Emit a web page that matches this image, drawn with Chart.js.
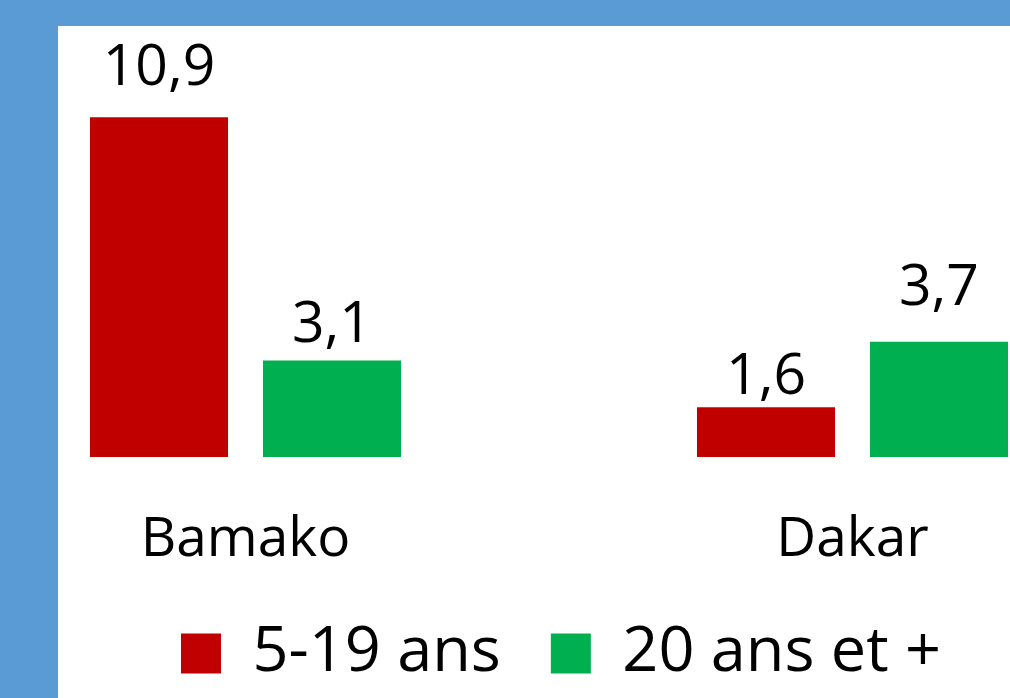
<!DOCTYPE html>
<html>
<head>
<meta charset="utf-8">
<script src="https://cdn.jsdelivr.net/npm/chart.js@4.4.0/dist/chart.umd.min.js"></script>
<style>
  html, body { margin: 0; padding: 0; width: 1010px; height: 698px; overflow: hidden; background: #5B9BD5; }
  #panel { position: absolute; left: 58px; top: 26px; width: 952px; height: 672px; background: #fff; overflow: hidden; }
  /* the original slide is cropped: the plot runs past both edges of the white panel */
  #wrap { position: absolute; left: -116px; top: 0; width: 1238px; height: 672px; }
</style>
</head>
<body>
<div id="panel"><div id="wrap"><canvas id="chart"></canvas></div></div>
<script>
const cities = ['Bamako', 'Dakar'];
const seriesNames = ['5-19 ans', '20 ans et +'];
const youth = [10.9, 1.6];
const adults = [3.1, 3.7];

const FONT = '"Open Sans"';

// value labels sit a little above each bar (lift in px, per bar)
const labelLift = [[32, 13], [18, 37]];

const valueLabels = {
  id: 'valueLabels',
  afterDatasetsDraw(chart) {
    const ctx = chart.ctx;
    ctx.save();
    ctx.font = '57px ' + FONT;
    ctx.fillStyle = '#000';
    ctx.textAlign = 'center';
    ctx.textBaseline = 'alphabetic';
    chart.data.datasets.forEach((ds, i) => {
      chart.getDatasetMeta(i).data.forEach((bar, j) => {
        const txt = ds.data[j].toFixed(1).replace('.', ',');
        ctx.fillText(txt, bar.x, bar.y - labelLift[i][j]);
      });
    });
    ctx.restore();
  }
};

const ctx = document.getElementById('chart').getContext('2d');
new Chart(ctx, {
  type: 'bar',
  data: {
    labels: cities,
    datasets: [{
      label: seriesNames[0],
      data: youth,
      backgroundColor: '#C00000',
      borderWidth: 0
    }, {
      label: seriesNames[1],
      data: adults,
      backgroundColor: '#00B050',
      borderWidth: 0
    }]
  },
  options: {
    responsive: true,
    maintainAspectRatio: false,
    animation: false,
    categoryPercentage: 0.57,
    barPercentage: 0.798,
    layout: { padding: { top: 57, left: 0, right: 0, bottom: 3 } },
    plugins: {
      legend: {
        position: 'bottom',
        labels: {
          boxWidth: 40,
          boxHeight: 40,
          padding: 50,
          color: '#000',
          font: { family: FONT, size: 63 }
        }
      },
      tooltip: { enabled: false }
    },
    scales: {
      x: {
        grid: { display: false },
        border: { display: false },
        ticks: { color: '#000', padding: 42, font: { family: FONT, size: 55 } },
        afterFit(s) { s.height = 115; }
      },
      y: {
        position: 'right',
        min: 0,
        max: 12,
        grid: { display: false },
        border: { display: false },
        ticks: { display: false },
        afterFit(s) { s.width = 24; }
      }
    }
  },
  plugins: [valueLabels]
});
</script>
</body>
</html>
